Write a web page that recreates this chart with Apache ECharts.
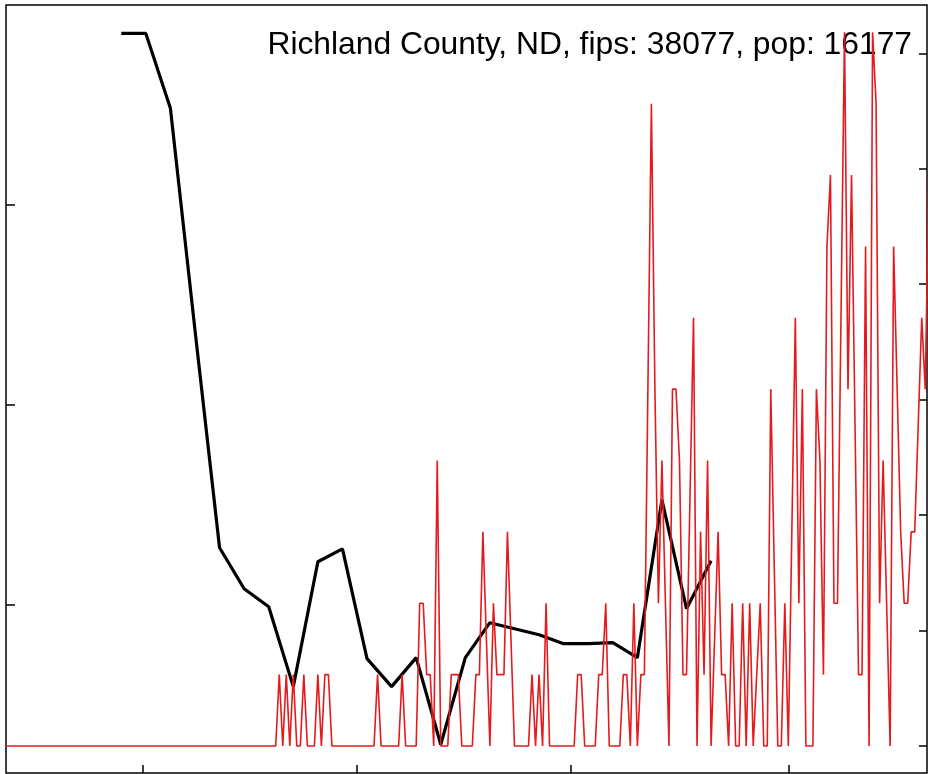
<!DOCTYPE html>
<html>
<head>
<meta charset="utf-8">
<script src="https://cdn.jsdelivr.net/npm/echarts@6/dist/echarts.min.js"></script>
<style>
html,body{margin:0;padding:0;background:#fff;}
#chart{width:928px;height:774px;}
</style>
</head>
<body>
<div id="chart"></div>
<script>
// ---- data ----
var titleText = 'Richland County, ND, fips: 38077, pop: 16177';
var population = 16177;
// x axis: days since 2020-01-22
var xTickDays = [39, 100, 161, 223]; // Mar 1, May 1, Jul 1, Sep 1
// daily new cases (red), day index = position
var dailyCases = [
  0,0,0,0,0,0,0,0,0,0, 0,0,0,0,0,0,0,0,0,0,
  0,0,0,0,0,0,0,0,0,0, 0,0,0,0,0,0,0,0,0,0,
  0,0,0,0,0,0,0,0,0,0, 0,0,0,0,0,0,0,0,0,0,
  0,0,0,0,0,0,0,0,0,0, 0,0,0,0,0,0,0,0,1,0,
  1,0,1,0,0,1,0,0,0,1, 0,1,1,0,0,0,0,0,0,0,
  0,0,0,0,0,0,1,0,0,0, 0,0,0,1,0,0,0,0,2,2,
  1,1,0,4,0,0,0,1,1,1, 0,0,0,0,1,1,3,1.5,0,2,
  1,1,1,3,1.5,0,0,0,0,0, 1,0,1,0,2,0,0,0,0,0,
  0,0,0,1,1,0,0,0,0,1, 1,2,0,0,0,0,1,1,0,2,
  0,1,1,5,9,5,2,4,2,0, 5,5,4,1,1,3.5,6,0,3,1,
  4,0,1.5,3,1,1,0,2,0,0, 2,0,2,0,1,2,0,0,5,2.5,
  0,0,2,0,3,6,2,5,0,0, 0,5,4,1,7,8,2,2,6,10,
  5,8,4.5,1,1,7,0,10,9,2, 4,2,0,7,5,3,2,2,3,3,
  4.5,6,5,8
];
// weekly series (black), left axis
var weekDays = [33,40,47,54,61,68,75,82,89,96,103,110,117,124,131,138,145,152,159,166,173,180,187,194,201];
var weekValues = [17.2,17.2,9.7,-12.5,-34.3,-38.4,-40.2,-48.2,-35.7,-34.4,-45.4,-48.2,-45.3,-54.0,-45.3,-41.8,-42.4,-43.0,-43.9,-43.9,-43.8,-45.3,-29.5,-40.4,-35.6];
var leftTicks = [-40, -20, 0];
var rightTicks = [0, 10, 20, 30, 40, 50, 60];

// ---- build ----
var redData = dailyCases.map(function (c, i) { return [i, c * 100000 / population]; });
var blackData = weekDays.map(function (d, i) { return [d, weekValues[i]]; });

var chart = echarts.init(document.getElementById('chart'), null, {renderer: 'canvas'});
chart.setOption({
  animation: false,
  backgroundColor: '#fff',
  title: {
    text: titleText,
    right: 16,
    top: 29,
    z: 0,
    padding: 0,
    textStyle: {fontFamily: 'Liberation Sans, Arial, sans-serif', fontSize: 31.8, fontWeight: 'normal', color: '#000'}
  },
  grid: {left: 6, right: 1, top: 5, bottom: 1, show: true, borderColor: '#000', borderWidth: 1.5, containLabel: false},
  xAxis: {
    type: 'value', min: 0.17, max: 262.5, position: 'bottom',
    axisLine: {show: false, onZero: false},
    axisLabel: {show: false},
    splitLine: {show: false},
    axisTick: {show: true, inside: true, length: 8, lineStyle: {color: '#000', width: 1.5}, customValues: xTickDays}
  },
  yAxis: [{
    type: 'value', min: -56.85, max: 20.05, position: 'left',
    axisLine: {show: false, onZero: false},
    axisLabel: {show: false},
    splitLine: {show: false},
    axisTick: {show: true, inside: true, length: 9, lineStyle: {color: '#000', width: 1.5}, customValues: leftTicks}
  }, {
    type: 'value', min: -2.34, max: 64.18, position: 'right',
    axisLine: {show: false, onZero: false},
    axisLabel: {show: false},
    splitLine: {show: false},
    axisTick: {show: true, inside: true, length: 8, lineStyle: {color: '#000', width: 1.5}, customValues: rightTicks}
  }],
  series: [{
    type: 'line', yAxisIndex: 0, data: blackData, showSymbol: false, z: 2,
    lineStyle: {color: '#000', width: 3.2}, itemStyle: {color: '#000'}
  }, {
    type: 'line', yAxisIndex: 1, data: redData, showSymbol: false, z: 3,
    lineStyle: {color: '#e41a1c', width: 1.6}, itemStyle: {color: '#e41a1c'}
  }]
});
</script>
</body>
</html>
